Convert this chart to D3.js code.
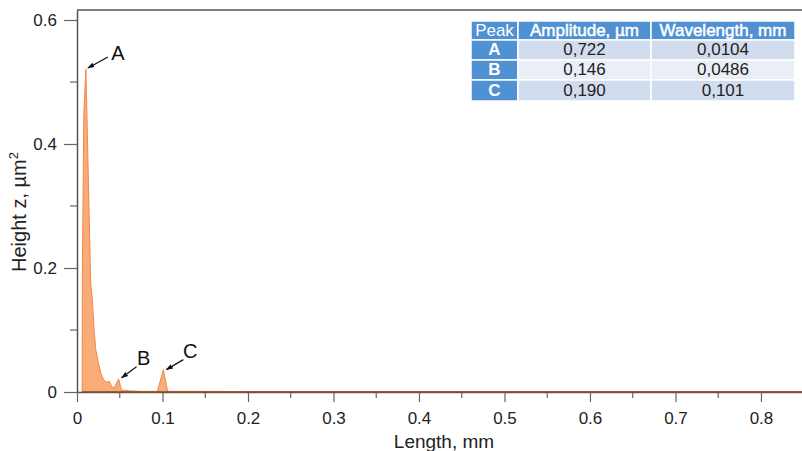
<!DOCTYPE html>
<html>
<head>
<meta charset="utf-8">
<script src="https://cdn.jsdelivr.net/npm/d3@7"></script>
<style>
  html, body { margin: 0; padding: 0; background: #fff; }
  svg { display: block; font-family: "Liberation Sans", Arial, sans-serif; }
</style>
</head>
<body>
<svg id="chart" width="802" height="451"></svg>
<script>
// Spectrum: length (mm) vs height (µm²)
const lengths = [0.0060, 0.0063, 0.0080, 0.0104, 0.0140, 0.0160, 0.0180, 0.0200, 0.0220,
  0.0250, 0.0280, 0.0310, 0.0340, 0.0378, 0.0406, 0.0436, 0.0486, 0.0520, 0.0600,
  0.0740, 0.0900, 0.0940, 0.1010, 0.1060, 0.1200, 0.2000, 0.3000, 0.4000, 0.5000,
  0.6000, 0.7000, 0.8000, 0.8480];
const heights = [0, 0.200, 0.450, 0.521, 0.299, 0.176, 0.148, 0.100, 0.068,
  0.047, 0.030, 0.020, 0.016, 0.017, 0.0085, 0.0065, 0.0213, 0.003, 0.002,
  0.001, 0.001, 0.001, 0.0361, 0.001, 0.001, 0.0008, 0.0006, 0.0006, 0.0005,
  0.0005, 0.0005, 0.0005, 0.0005];

// Labelled peaks
const peakNames = ["A", "B", "C"];
const peakAmplitudes = ["0,722", "0,146", "0,190"];
const peakWavelengths = ["0,0104", "0,0486", "0,101"];
const peakX = [0.0104, 0.0486, 0.101];
const peakY = [0.521, 0.0213, 0.0361];
const tableHeaders = ["Peak", "Amplitude, µm", "Wavelength, mm"];

const xTicks = [0, 0.1, 0.2, 0.3, 0.4, 0.5, 0.6, 0.7, 0.8];
const yTicks = [0, 0.2, 0.4, 0.6];

const svg = d3.select("#chart");
const x = d3.scaleLinear().domain([0, 0.848]).range([77, 802]);
const y = d3.scaleLinear().domain([0, 0.6161]).range([392, 10]);

const data = lengths.map((l, i) => ({ l, h: heights[i] }));

// filled spectrum
svg.append("path")
  .datum(data)
  .attr("d", d3.area().x(d => x(d.l)).y0(y(0)).y1(d => y(d.h)))
  .attr("fill", "#f9ab78")
  .attr("stroke", "#f2884a")
  .attr("stroke-width", 1)
  .attr("stroke-linejoin", "round");

// x axis
const xAxis = svg.append("g").attr("transform", `translate(0,${y(0)})`)
  .call(d3.axisBottom(x).tickValues(xTicks).tickFormat(d => d === 0 ? "0" : d3.format(".1f")(d))
    .tickSize(10).tickSizeOuter(0));
xAxis.select(".domain").attr("stroke", "#555").attr("stroke-width", 1.3);
xAxis.selectAll(".tick line").attr("stroke", "#666").attr("stroke-width", 1.2);
xAxis.selectAll(".tick text").attr("fill", "#222").attr("font-size", 17).attr("dy", "0.95em")
  .attr("y", 16);
// minor x ticks
svg.append("g").selectAll("line")
  .data(d3.range(0.05, 0.85, 0.1))
  .join("line")
  .attr("x1", d => x(d)).attr("x2", d => x(d))
  .attr("y1", y(0)).attr("y2", y(0) + 6)
  .attr("stroke", "#666").attr("stroke-width", 1.2);

// y axis
const yAxis = svg.append("g").attr("transform", `translate(${x(0)},0)`)
  .call(d3.axisLeft(y).tickValues(yTicks).tickFormat(d => d === 0 ? "0" : d3.format(".1f")(d))
    .tickSize(13).tickSizeOuter(0));
yAxis.select(".domain").attr("stroke", "#555").attr("stroke-width", 1.5);
yAxis.selectAll(".tick line").attr("stroke", "#666").attr("stroke-width", 1.2);
yAxis.selectAll(".tick text").attr("fill", "#222").attr("font-size", 17).attr("x", -20);
// minor y ticks
svg.append("g").selectAll("line")
  .data([0.1, 0.3, 0.5])
  .join("line")
  .attr("x1", x(0) - 7).attr("x2", x(0))
  .attr("y1", d => y(d)).attr("y2", d => y(d))
  .attr("stroke", "#666").attr("stroke-width", 1.2);

// baseline of the spectrum over the axis
svg.append("line")
  .attr("x1", x(0.006)).attr("x2", 802)
  .attr("y1", y(0)).attr("y2", y(0))
  .attr("stroke", "#8b4f2a").attr("stroke-width", 1.4);

// top frame line
svg.append("line")
  .attr("x1", x(0)).attr("x2", 802)
  .attr("y1", y(0.6161)).attr("y2", y(0.6161))
  .attr("stroke", "#555").attr("stroke-width", 1.5);

// axis titles
svg.append("text")
  .attr("x", 444).attr("y", 448)
  .attr("text-anchor", "middle")
  .attr("font-size", 19).attr("fill", "#222")
  .text("Length, mm");

const yt = svg.append("text")
  .attr("transform", "translate(26,212) rotate(-90)")
  .attr("text-anchor", "middle")
  .attr("font-size", 20).attr("fill", "#222");
yt.append("tspan").text("Height z, µm");
yt.append("tspan").attr("font-size", 13).attr("dy", -8).text("2");

// peak annotations (arrow + letter)
svg.append("defs").append("marker")
  .attr("id", "head")
  .attr("viewBox", "0 0 10 10")
  .attr("refX", 9).attr("refY", 5)
  .attr("markerWidth", 6).attr("markerHeight", 6)
  .attr("orient", "auto")
  .append("path").attr("d", "M0,1.5 L10,5 L0,8.5 z").attr("fill", "#111");

const arrowOffsets = [
  { tx: 2, ty: -1, dx: 20, dy: -11, lx: 32, ly: -14 },
  { tx: 3, ty: -1, dx: 15, dy: -11, lx: 25, ly: -19 },
  { tx: 3, ty: 0, dx: 17, dy: -10, lx: 27, ly: -17 }
];
peakNames.forEach((name, i) => {
  const px = x(peakX[i]), py = y(peakY[i]);
  const o = arrowOffsets[i];
  svg.append("line")
    .attr("x1", px + o.tx + o.dx).attr("y1", py + o.ty + o.dy)
    .attr("x2", px + o.tx).attr("y2", py + o.ty)
    .attr("stroke", "#111").attr("stroke-width", 1.2)
    .attr("marker-end", "url(#head)");
  svg.append("text")
    .attr("x", px + o.lx).attr("y", py + o.ly)
    .attr("text-anchor", "middle").attr("dominant-baseline", "middle")
    .attr("font-size", 20).attr("fill", "#111")
    .text(name);
});

// peak table
const colEdges = [471, 518, 651, 795];
const rowEdges = [21, 40, 60, 80, 101];
const rowFills = ["#d1dcee", "#e9eef7", "#d1dcee"];
const blue = "#4f91d3";
const tbl = svg.append("g");
const cell = (c, r, fill) => tbl.append("rect")
  .attr("x", colEdges[c]).attr("y", rowEdges[r])
  .attr("width", colEdges[c + 1] - colEdges[c]).attr("height", rowEdges[r + 1] - rowEdges[r])
  .attr("fill", fill).attr("stroke", "#fff").attr("stroke-width", 1.5);
const label = (c, r, txt, color, weight, heft) => tbl.append("text")
  .attr("x", (colEdges[c] + colEdges[c + 1]) / 2)
  .attr("y", (rowEdges[r] + rowEdges[r + 1]) / 2 + 1)
  .attr("text-anchor", "middle").attr("dominant-baseline", "middle")
  .attr("font-size", 17).attr("fill", color).attr("font-weight", weight)
  .attr("stroke", heft ? color : "none").attr("stroke-width", heft || 0)
  .text(txt);

tableHeaders.forEach((h, c) => {
  cell(c, 0, blue);
  label(c, 0, h, "#fff", "normal", c === 0 ? 0 : 0.5);
});
peakNames.forEach((name, i) => {
  cell(0, i + 1, blue);
  label(0, i + 1, name, "#fff", "bold");
  cell(1, i + 1, rowFills[i]);
  label(1, i + 1, peakAmplitudes[i], "#222", "normal");
  cell(2, i + 1, rowFills[i]);
  label(2, i + 1, peakWavelengths[i], "#222", "normal");
});
</script>
</body>
</html>
